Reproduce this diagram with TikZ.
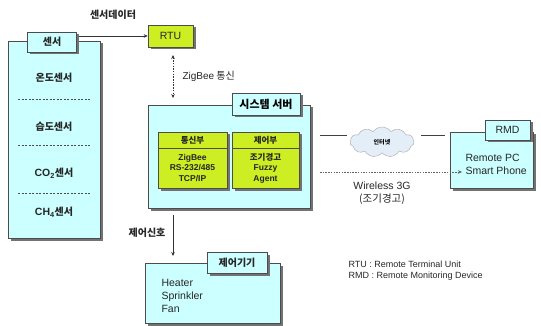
\documentclass[tikz,border=0pt]{standalone}
\usepackage{fontspec}
\setmainfont{Noto Sans CJK KR}
\newfontfamily\latinf{Liberation Sans}
\newfontfamily\kof{Noto Sans CJK KR}
\usetikzlibrary{shadows,shapes.symbols,arrows.meta}
\definecolor{cyanbox}{HTML}{CCFFFF}
\definecolor{limebox}{HTML}{CCEE22}
\definecolor{cloudfill}{HTML}{E4EEF8}
\tikzset{
  box/.style={draw=black!70, line width=0.6pt, fill=cyanbox, drop shadow={shadow xshift=2.5pt, shadow yshift=-2.5pt, fill=black!55, opacity=1}},
  limeb/.style={box, fill=limebox},
  lab/.style={font=\fontsize{10}{12}\selectfont\bfseries, text=black!85},
  sm/.style={font=\fontsize{8.5}{10.5}\selectfont\bfseries, align=center, text=black!85},
  lat/.style={font=\latinf\fontsize{10.5}{13}\selectfont, text=black!85},
  arr/.style={-{Stealth[length=4pt,width=3.5pt]}, line width=0.6pt, black!80},
}
\begin{document}
\begin{tikzpicture}[x=1pt,y=-1pt]
\useasboundingbox (0,0) rectangle (541,326);
% sensor box
\node[box, minimum width=92, minimum height=197, inner sep=0] (sensor) at (54,139.5) {};
\node[box, minimum width=49, minimum height=20, inner sep=0, lab] (sensorhead) at (52,42) {센서};
\node[lab] (s1) at (54,78) {온도센서};
\node[lab] (s2) at (54,127) {습도센서};
\node[lab] (s3) at (54,173) {{\latinf\fontsize{10.5}{12}\selectfont CO\textsubscript{2}}센서};
\node[lab] (s4) at (54,212) {{\latinf\fontsize{10.5}{12}\selectfont CH\textsubscript{4}}센서};
\draw[dashed, black!70, dash pattern=on 2pt off 1.5pt] (18,99) -- (90,99);
\draw[dashed, black!70, dash pattern=on 2pt off 1.5pt] (18,145) -- (90,145);
\draw[dashed, black!70, dash pattern=on 2pt off 1.5pt] (18,193) -- (90,193);
% RTU
\node[limeb, minimum width=45, minimum height=22, inner sep=0, lat] (rtu) at (170.5,36) {RTU};
\node[lab] (sdata) at (113,15) {센서데이터};
\draw[arr] (sensorhead.east |- rtu.west) ++(2,0) -- (rtu.west);
% server
\node[box, minimum width=162, minimum height=103, inner sep=0] (server) at (229,156.5) {};
\node[box, minimum width=68, minimum height=22, inner sep=0, font=\fontsize{11}{13}\selectfont\bfseries] (serverhead) at (266,104) {시스템 서버};
\node[limeb, minimum width=69, minimum height=16, inner sep=0, sm] (commh) at (192.5,140) {통신부};
\node[limeb, minimum width=69, minimum height=40, inner sep=0, sm, font=\latinf\fontsize{8.5}{10.5}\selectfont\bfseries] (commb) at (192.5,168) {ZigBee\\RS-232/485\\TCP/IP};
\node[limeb, minimum width=67, minimum height=16, inner sep=0, sm] (ctrlh) at (265.5,140) {제어부};
\node[limeb, minimum width=67, minimum height=40, inner sep=0, sm] (ctrlb) at (265.5,168) {조기경고\\{\latinf\bfseries Fuzzy}\\{\latinf\bfseries Agent}};
% zigbee
\coordinate (zt) at (173,55);
\coordinate (zb) at (173,98);
\draw[arr, {Stealth[length=4pt,width=3.5pt]}-{Stealth[length=4pt,width=3.5pt]}, dash pattern=on 1.5pt off 1.2pt] (zt) -- (zb);
\node[font=\fontsize{10}{12}\selectfont, text=black!85, anchor=west] (zlab) at (179,76) {{\latinf ZigBee} 통신};
% cloud
\node[cloud, cloud puffs=11, cloud puff arc=110, aspect=2.1, draw=black!35, fill=cloudfill, minimum width=64, minimum height=30, inner sep=0, font=\fontsize{6}{7}\selectfont\bfseries] (cloud) at (382,142) {인터넷};
% RMD
\node[box, minimum width=83, minimum height=56, inner sep=0] (rmd) at (491.5,160) {};
\node[box, minimum width=45, minimum height=20, inner sep=0, lat] (rmdhead) at (507.5,130) {RMD};
\node[lat, align=left, anchor=west] (rmdtext) at (462,164) {Remote PC\\Smart Phone};
\coordinate (c1) at (320,135);
\coordinate (c2) at (347,135);
\coordinate (c3) at (421,135);
\coordinate (c4) at (445,135);
\draw[black!75, line width=0.6pt] (c1) -- (c2);
\draw[black!75, line width=0.6pt] (c3) -- (c4);
\coordinate (w1) at (320,172);
\coordinate (w2) at (462,172);
\draw[arr, dash pattern=on 1.5pt off 1.2pt, black!60] (w1) -- (w2);
\node[lat, align=center] (wlab) at (382,193) {Wireless 3G\\{\kof (조기경고)}};
% control
\node[box, minimum width=135, minimum height=60, inner sep=0] (dev) at (212.5,293) {};
\node[box, minimum width=60, minimum height=21, inner sep=0, lab] (devhead) at (237,262.5) {제어기기};
\node[lat, align=left, anchor=west] (devtext) at (158,296) {Heater\\Sprinkler\\Fan};
\coordinate (d1) at (173,215);
\coordinate (d2) at (173,256);
\draw[arr] (d1) -- (d2);
\node[lab] (dlab) at (147,233) {제어신호};
% legend
\node[lat, font=\latinf\fontsize{9}{11}\selectfont, align=left, anchor=west] (legend) at (345,271) {RTU : Remote Terminal Unit\\RMD : Remote Monitoring Device};
\end{tikzpicture}
\end{document}
